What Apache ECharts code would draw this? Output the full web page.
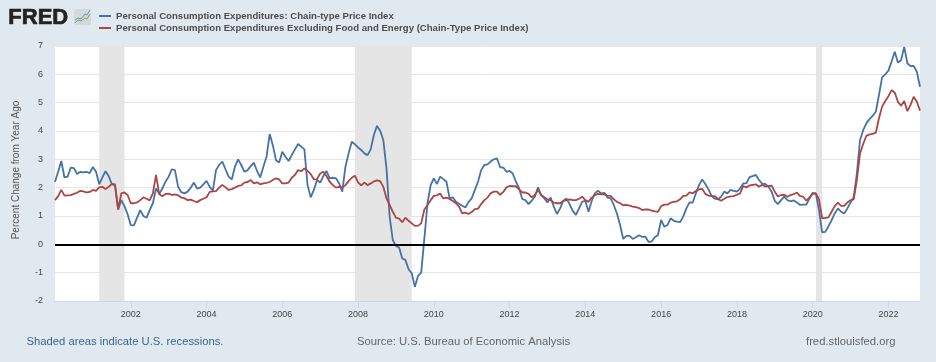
<!DOCTYPE html>
<html>
<head>
<meta charset="utf-8">
<style>
  html, body {margin: 0; padding: 0; background: #e1e9f0;}
  #chart {width: 936px; height: 362px;}
</style>
<script src="https://cdn.jsdelivr.net/npm/echarts@6/dist/echarts.min.js"></script>
</head>
<body>
<div id="chart"></div>
<script>
const seriesNames = [
  'Personal Consumption Expenditures: Chain-type Price Index',
  'Personal Consumption Expenditures Excluding Food and Energy (Chain-Type Price Index)',
]
const seriesColors = ['#4572a7', '#aa4643']

// monthly, Jan 2000 to Nov 2022
const pce = [
  2.21, 2.56, 2.94, 2.36, 2.39, 2.71, 2.69, 2.48, 2.56, 2.54, 2.56, 2.51,
  2.73, 2.56, 2.12, 2.36, 2.58, 2.41, 2.13, 2.12, 1.23, 1.56, 1.35, 1.06,
  0.68, 0.67, 0.94, 1.21, 1.0, 0.94, 1.21, 1.45, 1.97, 1.78, 1.97, 2.21,
  2.39, 2.65, 2.62, 2.03, 1.84, 1.8, 1.86, 2.0, 2.18, 1.97, 2.0, 2.12,
  2.24, 2.03, 1.89, 2.62, 2.8, 2.92, 2.65, 2.39, 2.29, 2.74, 3.0, 2.8,
  2.56, 2.62, 2.76, 2.88, 2.59, 2.36, 2.74, 3.09, 3.89, 3.5, 2.97, 2.89,
  3.27, 3.09, 2.94, 3.15, 3.35, 3.54, 3.45, 3.35, 2.09, 1.66, 1.92, 2.27,
  2.18, 2.41, 2.59, 2.33, 2.35, 2.33, 2.15, 1.86, 2.74, 3.21, 3.62, 3.53,
  3.42, 3.33, 3.21, 3.15, 3.35, 3.86, 4.18, 4.01, 3.68, 2.68, 0.98, 0.15,
  -0.06, -0.11, -0.5, -0.55, -0.88, -1.02, -1.5, -1.11, -1.0, 0.21, 1.45, 2.09,
  2.33, 2.13, 2.39, 2.3, 2.21, 1.62, 1.66, 1.5, 1.43, 1.36, 1.3, 1.5,
  1.62, 1.92, 2.21, 2.62, 2.8, 2.82, 2.92, 3.0, 3.03, 2.72, 2.71, 2.56,
  2.59, 2.5, 2.21, 1.98, 1.6, 1.56, 1.42, 1.54, 1.68, 2.01, 1.74, 1.62,
  1.48, 1.65, 1.33, 1.07, 1.27, 1.54, 1.62, 1.42, 1.18, 1.04, 1.27, 1.51,
  1.53, 1.15, 1.53, 1.8, 1.89, 1.8, 1.82, 1.65, 1.62, 1.39, 1.09, 0.68,
  0.19, 0.3, 0.3, 0.19, 0.25, 0.32, 0.26, 0.27, 0.09, 0.1, 0.25, 0.33,
  0.86, 0.62, 0.68, 0.92, 0.83, 0.8, 0.78, 0.98, 1.27, 1.48, 1.47, 1.8,
  2.09, 2.29, 2.13, 1.94, 1.7, 1.61, 1.59, 1.68, 1.86, 1.8, 1.92, 1.89,
  1.86, 1.97, 2.15, 2.15, 2.37, 2.41, 2.45, 2.27, 2.14, 2.13, 2.03, 1.86,
  1.53, 1.42, 1.56, 1.68, 1.56, 1.52, 1.55, 1.48, 1.39, 1.4, 1.4, 1.62,
  1.82, 1.8, 1.21, 0.42, 0.44, 0.64, 0.85, 1.09, 1.27, 1.15, 1.09, 1.27,
  1.48, 1.66, 2.5, 3.68, 4.03, 4.27, 4.42, 4.53, 4.68, 5.27, 5.89, 6.0,
  6.13, 6.45, 6.8, 6.42, 6.5, 6.97, 6.39, 6.29, 6.3, 6.09, 5.56,
]
const pceCore = [
  1.56, 1.7, 1.92, 1.72, 1.73, 1.74, 1.78, 1.82, 1.89, 1.87, 1.83, 1.85,
  1.92, 1.89, 2.01, 2.03, 1.95, 2.03, 2.13, 2.08, 1.23, 1.8, 1.83, 1.74,
  1.45, 1.45, 1.48, 1.56, 1.66, 1.61, 1.55, 1.8, 2.45, 1.78, 1.7, 1.78,
  1.79, 1.74, 1.76, 1.73, 1.65, 1.63, 1.56, 1.58, 1.53, 1.49, 1.56, 1.61,
  1.66, 1.85, 1.87, 1.88, 2.0, 2.1, 2.01, 1.92, 1.95, 2.0, 2.06, 2.08,
  2.18, 2.2, 2.27, 2.15, 2.19, 2.12, 2.15, 2.17, 2.2, 2.27, 2.33, 2.29,
  2.15, 2.15, 2.18, 2.35, 2.45, 2.62, 2.58, 2.68, 2.59, 2.48, 2.29, 2.3,
  2.5, 2.56, 2.41, 2.21, 2.09, 2.0, 2.03, 2.01, 2.09, 2.23, 2.35, 2.42,
  2.19, 2.08, 2.18, 2.09, 2.15, 2.22, 2.26, 2.23, 2.03, 1.62, 1.39, 1.15,
  0.94, 0.91, 0.78, 0.94, 0.83, 0.74, 0.65, 0.66, 0.74, 1.23, 1.39, 1.56,
  1.71, 1.73, 1.79, 1.62, 1.65, 1.6, 1.53, 1.45, 1.33, 1.09, 1.12, 1.07,
  1.14, 1.24, 1.26, 1.42, 1.56, 1.65, 1.8, 1.86, 1.86, 1.75, 1.85, 2.01,
  2.06, 2.05, 2.05, 1.94, 1.83, 1.83, 1.78, 1.66, 1.74, 1.92, 1.74, 1.66,
  1.59, 1.56, 1.47, 1.45, 1.45, 1.53, 1.56, 1.59, 1.56, 1.56, 1.61, 1.68,
  1.56, 1.5, 1.65, 1.74, 1.78, 1.76, 1.76, 1.72, 1.71, 1.59, 1.5, 1.45,
  1.38, 1.39, 1.37, 1.33, 1.31, 1.28, 1.21, 1.23, 1.23, 1.19, 1.16, 1.15,
  1.35, 1.4, 1.4, 1.47, 1.5, 1.52, 1.59, 1.71, 1.72, 1.83, 1.8, 1.88,
  1.94, 1.96, 1.78, 1.72, 1.7, 1.7, 1.6, 1.54, 1.61, 1.67, 1.69, 1.7,
  1.75, 1.8, 2.06, 2.01, 2.08, 2.1, 2.12, 2.03, 2.1, 2.04, 2.06, 2.07,
  1.86, 1.69, 1.74, 1.75, 1.68, 1.74, 1.77, 1.83, 1.7, 1.68, 1.54, 1.66,
  1.77, 1.8, 1.59, 0.92, 0.93, 0.95, 1.15, 1.35, 1.47, 1.36, 1.36, 1.48,
  1.56, 1.59, 2.27, 3.21, 3.54, 3.83, 3.88, 3.9, 3.94, 4.45, 4.86, 5.06,
  5.23, 5.44, 5.36, 5.03, 4.89, 5.06, 4.7, 4.92, 5.21, 5.03, 4.72,
]
const months = []
for (let y = 2000; y <= 2022; y++) {
  for (let m = 1; m <= 12; m++) {
    if (months.length < pce.length) months.push(`${y}-${String(m).padStart(2, '0')}`)
  }
}
const recessions = [['2001-03', '2001-11'], ['2007-12', '2009-06'], ['2020-02', '2020-04']]
const yTicks = {min: -2, max: 7, interval: 1}

const fontFamily = 'Arial, "Liberation Sans", Helvetica, sans-serif'
const isTick = index => {
  const [y, m] = months[index].split('-')
  return m === '01' && +y % 2 === 0 && +y > 2000
}

const chart = echarts.init(document.getElementById('chart'), null, {renderer: 'canvas'})
chart.setOption({
  animation: false,
  backgroundColor: '#e1e9f0',
  grid: {
    left: 55,
    right: 16,
    top: 46,
    bottom: 61,
    show: true,
    backgroundColor: '#fff',
    borderWidth: 0,
    outerBoundsMode: 'none',
  },
  legend: {
    left: 94,
    top: 6,
    orient: 'vertical',
    itemGap: 2,
    itemWidth: 12,
    itemHeight: 2,
    icon: 'rect',
    textStyle: {fontFamily, fontSize: 9.6, fontWeight: 'bold', color: '#4d4d4d'},
    data: seriesNames,
  },
  xAxis: {
    type: 'category',
    boundaryGap: false,
    data: months,
    axisLine: {onZero: false, lineStyle: {color: '#ccd6eb'}},
    axisTick: {interval: isTick, length: 7, lineStyle: {color: '#ccd6eb'}},
    axisLabel: {
      interval: isTick,
      formatter: v => v.slice(0, 4),
      fontFamily,
      fontSize: 9,
      color: '#444',
      margin: 9,
    },
    splitLine: {show: false},
  },
  yAxis: {
    type: 'value',
    min: yTicks.min,
    max: yTicks.max,
    interval: yTicks.interval,
    axisLine: {show: false},
    axisTick: {show: false},
    axisLabel: {fontFamily, fontSize: 9, color: '#444', margin: 12, padding: [2, 0, 0, 0]},
    splitLine: {lineStyle: {color: '#e6e6e6', width: 1}},
  },
  series: [{
    name: seriesNames[0],
    type: 'line',
    data: pce,
    color: seriesColors[0],
    showSymbol: false,
    lineStyle: {width: 1.8},
    z: 3,
    markArea: {
      silent: true,
      itemStyle: {color: '#e5e5e5'},
      data: recessions.map(([a, b]) => [{xAxis: a}, {xAxis: b}]),
    },
  }, {
    name: seriesNames[1],
    type: 'line',
    data: pceCore,
    color: seriesColors[1],
    showSymbol: false,
    lineStyle: {width: 1.8},
    z: 4,
    markLine: {
      silent: true,
      symbol: 'none',
      label: {show: false},
      lineStyle: {color: '#000', width: 2, type: 'solid'},
      data: [{yAxis: 0}],
    },
  }],
  graphic: [
    {type: 'text', left: 8, top: 7, style: {text: 'FRED', font: `900 22px ${fontFamily}`, fill: '#222', stroke: '#222', lineWidth: 0.7}},
    {type: 'rect', shape: {x: 74, y: 9, width: 17, height: 16, r: 2}, style: {fill: '#d2d9de'}},
    {type: 'polyline', shape: {points: [[75, 20], [78, 18], [81, 19], [85, 14], [87, 15], [90, 10]]}, style: {stroke: '#6f93bd', fill: null, lineWidth: 1}},
    {type: 'polyline', shape: {points: [[75, 23], [78, 20], [81, 21], [85, 18], [87, 19], [90, 14]]}, style: {stroke: '#86a95e', fill: null, lineWidth: 1}},
    {
      type: 'text',
      x: 16,
      y: 170,
      rotation: Math.PI / 2,
      style: {
        text: 'Percent Change from Year Ago',
        font: `10px ${fontFamily}`,
        fill: '#555',
        align: 'center',
        verticalAlign: 'middle',
      },
    },
    {type: 'text', left: 26.5, top: 336, style: {text: 'Shaded areas indicate U.S. recessions.', font: `11.25px ${fontFamily}`, fill: '#3a6596'}},
    {type: 'text', left: 357, top: 336, style: {text: 'Source: U.S. Bureau of Economic Analysis', font: `11.25px ${fontFamily}`, fill: '#666'}},
    {type: 'text', left: 806, top: 336, style: {text: 'fred.stlouisfed.org', font: `11.25px ${fontFamily}`, fill: '#666'}},
  ],
})
</script>
</body>
</html>
